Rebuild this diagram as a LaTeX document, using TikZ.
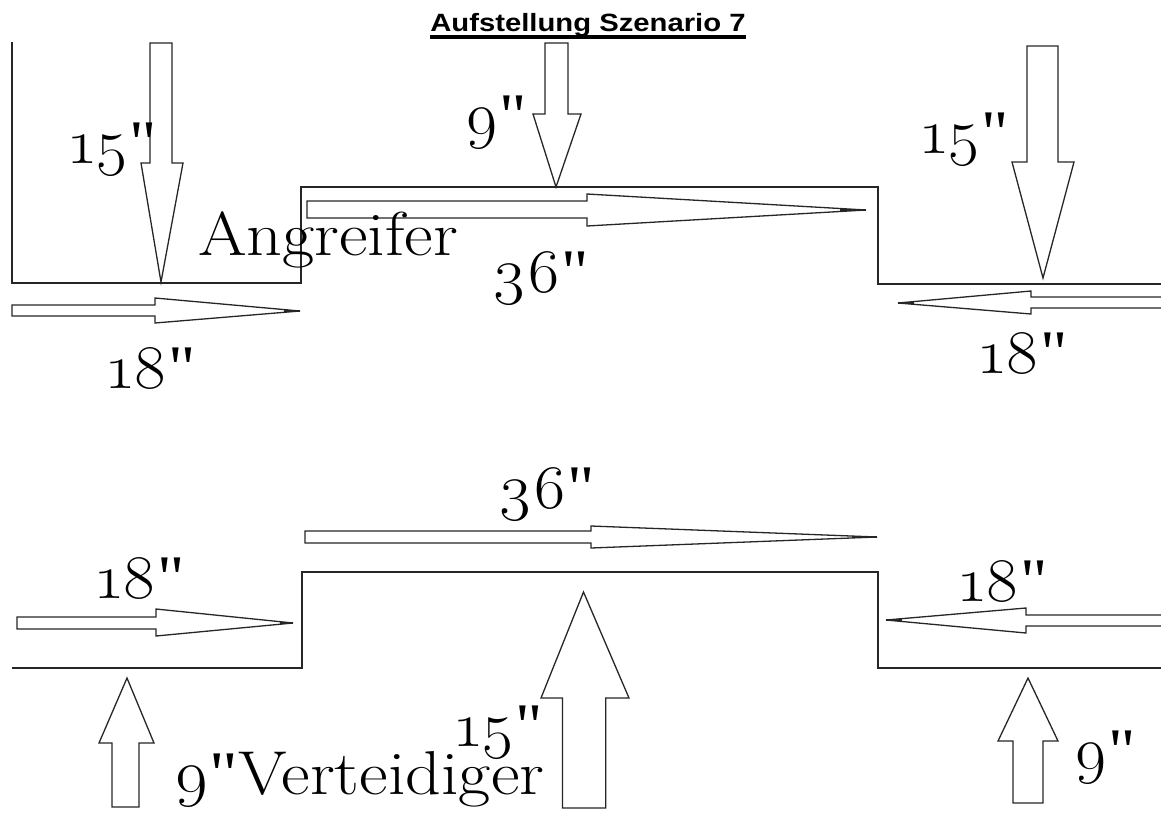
\documentclass[tikz,border=0pt]{standalone}
\usepackage{fontspec}
\setmainfont{Latin Modern Roman}[Numbers=OldStyle]
\newfontfamily\titlefont{Liberation Sans}
\newfontfamily\qfont{Liberation Serif}
\newcommand{\inch}{{\qfont"}}
\begin{document}
\begin{tikzpicture}[x=1pt,y=-1pt,
  outline/.style={draw=black!85, line width=1.4pt},
  arr/.style={draw=black!85, fill=white, line width=1.3pt, line join=miter},
  tipline/.style={draw=black!85, line width=2pt},
  lbl/.style={inner sep=0pt, anchor=base west, font=\fontsize{62}{62}\selectfont, xscale=1.08},
  wlbl/.style={inner sep=0pt, anchor=base west, font=\fontsize{62}{62}\selectfont, xscale=1.13},
  ttl/.style={inner sep=0pt, anchor=base, font=\titlefont\bfseries\fontsize{25}{25}\selectfont, xscale=1.17}]
\useasboundingbox (0,0) rectangle (1161,812);
% title
\node[ttl] (title) at (588,31) {Aufstellung Szenario 7};
\fill ([yshift=-4pt]title.base west) rectangle ([yshift=-8pt]title.base east);
% field outlines
\draw[outline] (12,42) -- (12,283) -- (301,283) -- (301,187) -- (878,187) -- (878,284) -- (1163,284);
\draw[outline] (12,668) -- (302,668) -- (302,572) -- (878,572) -- (878,668) -- (1163,668);
% top: down arrows
\draw[arr] (150,43) -- (172,43) -- (172,163) -- (183,163) -- (161,282) -- (141,163) -- (150,163) -- cycle;
\draw[arr] (545,43) -- (568,43) -- (568,114) -- (581,114) -- (556,187) -- (533,114) -- (545,114) -- cycle;
\draw[arr] (1027,46) -- (1058,46) -- (1058,162) -- (1074,162) -- (1043,278) -- (1012,162) -- (1027,162) -- cycle;
% top: horizontal arrows
\draw[arr] (307,201) -- (587,201) -- (587,194) -- (866,210) -- (587,226) -- (587,218) -- (307,218) -- cycle;
\draw[tipline] (840,210) -- (866,210);
\draw[arr] (12,305) -- (155,305) -- (155,298) -- (300,311) -- (155,323) -- (155,316) -- (12,316) -- cycle;
\draw[tipline] (284,311) -- (300,311);
\draw[arr] (1165,297) -- (1031,297) -- (1031,291) -- (898,303) -- (1031,314) -- (1031,308) -- (1165,308) -- cycle;
\draw[tipline] (898,303) -- (914,303);
% bottom: horizontal arrows
\draw[arr] (305,531) -- (591,531) -- (591,526) -- (877,537) -- (591,548) -- (591,543) -- (305,543) -- cycle;
\draw[tipline] (852,537) -- (877,537);
\draw[arr] (17,617) -- (156,617) -- (156,609) -- (293,623) -- (156,636) -- (156,629) -- (17,629) -- cycle;
\draw[tipline] (280,623) -- (293,623);
\draw[arr] (1165,615) -- (1026,615) -- (1026,608) -- (886,620) -- (1026,633) -- (1026,626) -- (1165,626) -- cycle;
\draw[tipline] (886,620) -- (902,620);
% bottom: up arrows
\draw[arr] (112,807) -- (139,807) -- (139,743) -- (154,743) -- (127,678) -- (99,743) -- (112,743) -- cycle;
\draw[arr] (562.5,808) -- (605.7,808) -- (605.7,698) -- (629,698) -- (583.5,592) -- (541,698) -- (562.5,698) -- cycle;
\draw[arr] (1013,803) -- (1043,803) -- (1043,741) -- (1058,741) -- (1028,678) -- (998,741) -- (1013,741) -- cycle;
% labels
\node[wlbl] (ang) at (198,255) {Angreifer};
\node[lbl] (t15l) at (70,163) {15\inch};
\node[lbl] (t9m) at (464,136) {9\inch};
\node[lbl] (t36m) at (491,292) {36\inch};
\node[lbl] (t15r) at (922,153) {15\inch};
\node[lbl] (t18l) at (108,388) {18\inch};
\node[lbl] (t18r) at (980,373) {18\inch};
\node[lbl] (b36m) at (497,508) {36\inch};
\node[lbl] (b18l) at (97,598) {18\inch};
\node[lbl] (b18r) at (960,601) {18\inch};
\node[wlbl] (vert) at (173,794) {9\inch Verteidiger};
\node[lbl] (b15m) at (456,746) {15\inch};
\node[lbl] (b9r) at (1073,771) {9\inch};
\end{tikzpicture}
\end{document}
